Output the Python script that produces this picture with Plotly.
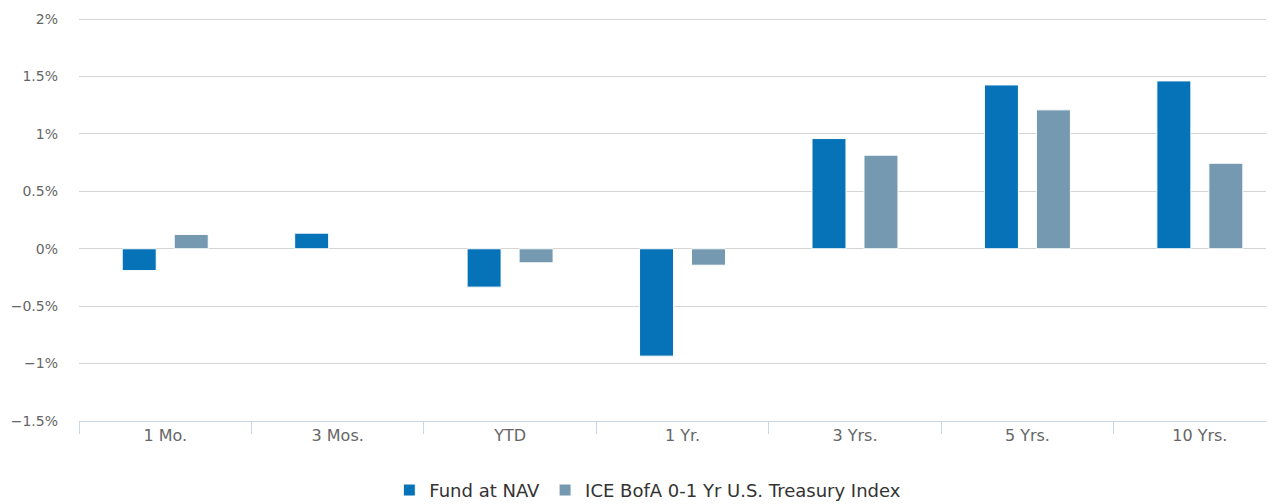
import plotly.graph_objects as go

categories = ["1 Mo.", "3 Mos.", "YTD", "1 Yr.", "3 Yrs.", "5 Yrs.", "10 Yrs."]
fund_nav = [-0.19, 0.136, -0.334, -0.935, 0.96, 1.427, 1.462]
ice_index = [0.125, None, -0.122, -0.143, 0.815, 1.21, 0.745]
y_tickvals = [-1.5, -1, -0.5, 0, 0.5, 1, 1.5, 2]
y_ticktext = ["\u22121.5%", "\u22121%", "\u22120.5%", "0%", "0.5%", "1%", "1.5%", "2%"]

FONT = "DejaVu Sans"

fig = go.Figure()
fig.add_trace(go.Bar(
    x=categories, y=fund_nav, name="Fund at NAV",
    marker=dict(color="#0673b8", line=dict(color="#ffffff", width=1)),
))
fig.add_trace(go.Bar(
    x=categories, y=ice_index, name="ICE BofA 0-1 Yr U.S. Treasury Index",
    marker=dict(color="#7499b0", line=dict(color="#ffffff", width=1)),
))

# page has an 8px body margin, so the figure is sized/placed accordingly
fig.update_layout(
    width=1266, height=496,
    margin=dict(l=71, r=0, t=10, b=83, autoexpand=False),
    paper_bgcolor="white", plot_bgcolor="white",
    barmode="group", bargap=0.397, bargroupgap=0.346,
    font=dict(family=FONT, color="#666666", size=14),
    showlegend=True,
    legend=dict(
        orientation="h", x=0.476, xanchor="center", y=-0.172, yanchor="middle",
        font=dict(family=FONT, size=18, color="#333333"),
        itemclick=False, traceorder="normal",
    ),
    xaxis=dict(
        range=[-0.5, 6.43], automargin=False,
        showgrid=False, showline=True, linecolor="#ccd6eb", linewidth=1,
        ticks="outside", tickson="boundaries", ticklen=12, tickcolor="#ccd6eb",
        tickfont=dict(family=FONT, size=16, color="#666666"),
        fixedrange=True,
    ),
    yaxis=dict(
        range=[-1.5, 2.01], automargin=False,
        tickvals=y_tickvals, ticktext=y_ticktext,
        showgrid=True, gridcolor="#d4d4d4", gridwidth=1,
        zeroline=True, zerolinecolor="#d4d4d4", zerolinewidth=1,
        showline=False, ticks="", ticklabelstandoff=20,
        tickfont=dict(family=FONT, size=14, color="#666666"),
        fixedrange=True,
    ),
)

fig.write_html("out.html")
